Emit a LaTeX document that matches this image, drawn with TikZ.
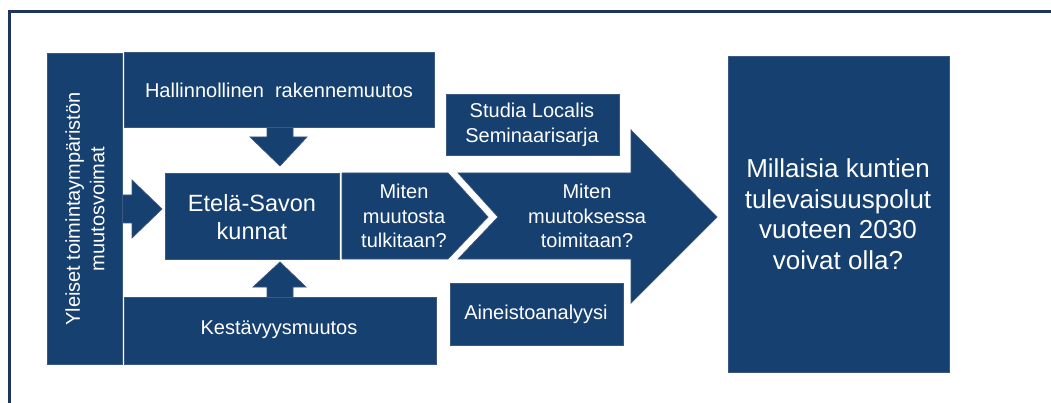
\documentclass[tikz,border=0pt]{standalone}
\usepackage{fontspec}
\setmainfont{Liberation Sans}
\definecolor{navy}{RGB}{22,64,112}
\definecolor{edgec}{RGB}{58,88,128}
\definecolor{framec}{RGB}{28,54,94}
\begin{document}
\begin{tikzpicture}[x=1pt,y=-1pt,
  blk/.style={fill=navy, draw=edgec, line width=0.7pt, line join=miter},
  box/.style={blk, inner sep=0pt, outer sep=0pt, anchor=north west},
  lbl/.style={text=white, align=center, inner sep=0pt, font=\fontsize{20}{24.5}\selectfont},
]
\useasboundingbox (0,0) rectangle (1051,403);
\draw[framec, line width=2.5pt] (9.5,403) -- (9.5,11.5) -- (1051,11.5);

% block arrows (drawn first, boxes cover their bases)
\filldraw[blk] (115,195) -- (132,195) -- (132,180) -- (162,209) -- (132,238) -- (132,223) -- (115,223) -- cycle;
\filldraw[blk] (267,120) -- (267,137) -- (250,137) -- (280,166) -- (307,137) -- (293,137) -- (293,120) -- cycle;
\filldraw[blk] (267,304) -- (267,287) -- (253,287) -- (280,262) -- (306,287) -- (293,287) -- (293,304) -- cycle;

% boxes
\node[box, minimum width=75pt, minimum height=311pt] (yle) at (47,53) {};
\node[lbl, rotate=90] (yletxt) at (85,209) {Yleiset toimintaympäristön\\muutosvoimat};
\node[box, minimum width=310pt, minimum height=75pt] (hal) at (124,52) {};
\node[lbl] (haltxt) at (279,90) {Hallinnollinen\ \ rakennemuutos};
\node[box, minimum width=174pt, minimum height=86pt] (ete) at (165,173) {};
\node[lbl, font=\fontsize{23.5}{28}\selectfont] (etetxt) at (252,217) {Etelä-Savon\\kunnat};
\node[box, minimum width=312pt, minimum height=67pt] (kes) at (124,297) {};
\node[lbl] (kestxt) at (279,330) {Kestävyysmuutos};

% chevron
\filldraw[blk] (342,173) -- (448,173) -- (488,217) -- (448,259) -- (342,259) -- cycle;
\node[lbl] (chtxt) at (404,216) {Miten\\muutosta\\tulkitaan?};

% big arrow
\filldraw[blk] (458,173) -- (631,173) -- (631,130) -- (717,217) -- (631,303) -- (631,259) -- (458,259) -- (498,217) -- cycle;
\node[lbl] (bigtxt) at (587,216) {Miten\\muutoksessa\\toimitaan?};

% side boxes
\node[box, minimum width=173pt, minimum height=61pt] (stu) at (446,94) {};
\node[lbl] (stutxt) at (532,125) {Studia\ Localis\\Seminaarisarja};
\node[box, minimum width=173pt, minimum height=62pt] (ain) at (450,283) {};
\node[lbl] (aintxt) at (536,314) {Aineistoanalyysi};

% result box
\node[box, minimum width=221pt, minimum height=316pt] (res) at (728,56) {};
\node[lbl, font=\fontsize{26}{30.5}\selectfont] (restxt) at (838,214) {Millaisia kuntien\\tulevaisuuspolut\\vuoteen 2030\\voivat olla?};
\end{tikzpicture}
\end{document}
